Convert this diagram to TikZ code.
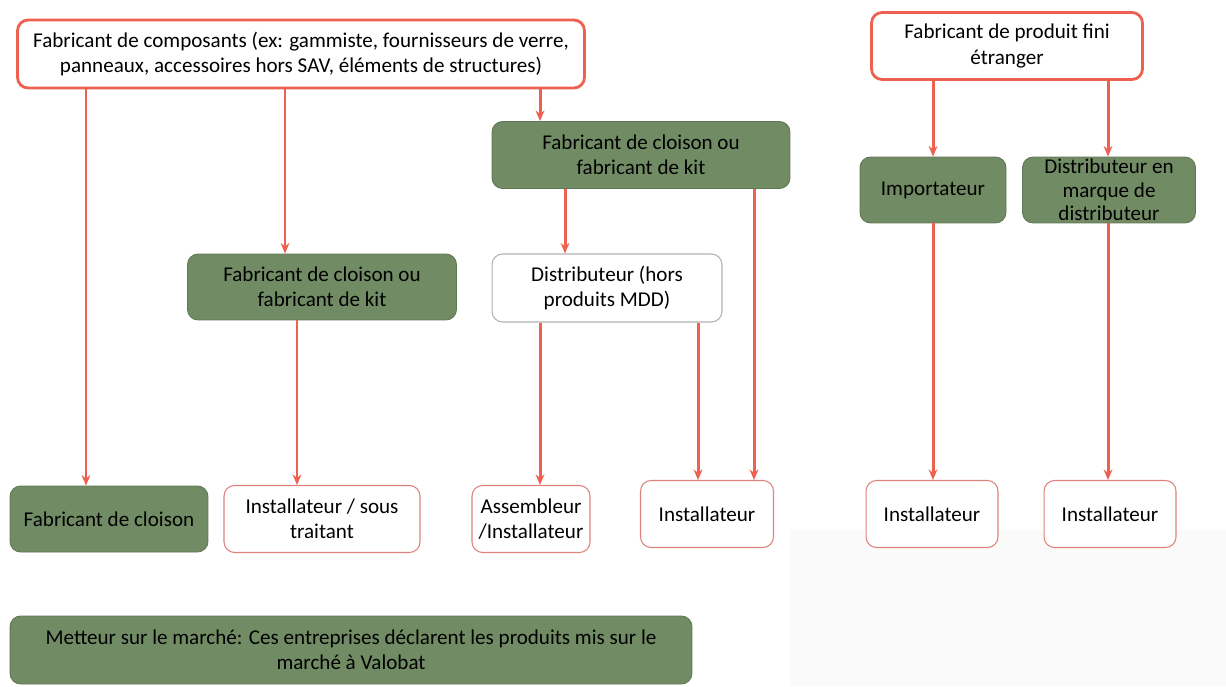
\documentclass[tikz,border=0pt]{standalone}
\usepackage{fontspec}
\setmainfont{Carlito}
\usetikzlibrary{arrows.meta}
\definecolor{linered}{RGB}{238,96,80}
\definecolor{edgepink}{RGB}{222,130,125}
\definecolor{boxgreen}{RGB}{113,140,100}

\begin{document}
\begin{tikzpicture}[x=0.02cm,y=-0.02cm,>={Stealth[length=6pt,width=5pt]},
  font=\fontsize{12}{14.5}\selectfont,
  box/.style={rectangle, rounded corners=6pt, align=center, inner sep=2pt},
  redbox/.style={box, draw=linered, line width=1.6pt, fill=white},
  greenbox/.style={box, draw=boxgreen!85!black, fill=boxgreen, line width=0.5pt},
  whitebox/.style={box, draw=edgepink, fill=white, line width=0.6pt},
  graybox/.style={box, draw=gray!60, fill=white, line width=0.6pt},
  link/.style={->, color=linered, line width=1.7pt}]

\useasboundingbox (0,0) rectangle (1226,686);
% faint background mark
\fill[gray!4] (790,530) -- (1226,530) -- (1226,686) -- (790,686) -- cycle;

% define the boxes at the top
  \node[redbox, minimum width=11.34cm, minimum height=1.36cm] (comp) at (301,54)
{Fabricant de composants (ex: gammiste, fournisseurs de verre,\\ panneaux, accessoires hors SAV, éléments de structures)};
  \node[redbox, minimum width=5.42cm, minimum height=1.34cm] (fini) at (1007,46)
{Fabricant de produit fini\\ étranger};

% define the middle boxes
  \node[greenbox, minimum width=5.96cm, minimum height=1.34cm] (kit2) at (641,155)
{Fabricant de cloison ou\\ fabricant de kit};
  \node[greenbox, minimum width=5.38cm, minimum height=1.32cm] (kit1) at (322,287)
{Fabricant de cloison ou\\ fabricant de kit};
  \node[graybox, minimum width=4.6cm, minimum height=1.36cm] (distr) at (607,288)
{Distributeur (hors\\ produits MDD)};
  \node[greenbox, minimum width=2.92cm, minimum height=1.32cm] (import) at (933,190)
{Importateur};
  \node[greenbox, minimum width=3.46cm, minimum height=1.32cm, inner sep=0pt,
        font=\fontsize{12}{13.5}\selectfont] (mdd) at (1109,190)
{Distributeur en\\ marque de\\ distributeur};

% define the boxes at the bottom
  \node[greenbox, minimum width=3.96cm, minimum height=1.32cm] (fc) at (109,519)
{Fabricant de cloison};
  \node[whitebox, minimum width=3.92cm, minimum height=1.34cm] (inst1) at (322,519)
{Installateur / sous\\ traitant};
  \node[whitebox, minimum width=2.36cm, minimum height=1.34cm] (assemb) at (531,519)
{Assembleur\\ /Installateur};
  \node[whitebox, minimum width=2.66cm, minimum height=1.34cm] (inst2) at (707,514)
{Installateur};
  \node[whitebox, minimum width=2.64cm, minimum height=1.34cm] (inst3) at (932,514)
{Installateur};
  \node[whitebox, minimum width=2.64cm, minimum height=1.34cm] (inst4) at (1110,514)
{Installateur};

  \node[greenbox, minimum width=13.64cm, minimum height=1.36cm] (note) at (351,650)
{Metteur sur le marché: Ces entreprises déclarent les produits mis sur le\\ marché à Valobat};

% define the links
  \path[link] (comp.south -| 86,0) edge (fc.north -| 86,0)
              (comp.south -| 285,0) edge (kit1.north -| 285,0)
              (comp.south -| 540,0) edge (kit2.north -| 540,0)
        (kit1.south -| 297,0) edge (inst1.north -| 297,0)
        (kit2.south -| 565,0) edge (distr.north -| 565,0)
        (kit2.south -| 754,0) edge (inst2.north -| 754,0)
        (distr.south -| 540,0) edge (assemb.north -| 540,0)
        (distr.south -| 698,0) edge (inst2.north -| 698,0)
        (fini.south -| 933,0) edge (import.north -| 933,0)
        (fini.south -| 1108,0) edge (mdd.north -| 1108,0)
        (import.south -| 933,0) edge (inst3.north -| 933,0)
        (mdd.south -| 1108,0) edge (inst4.north -| 1108,0);

\end{tikzpicture}
\end{document}
